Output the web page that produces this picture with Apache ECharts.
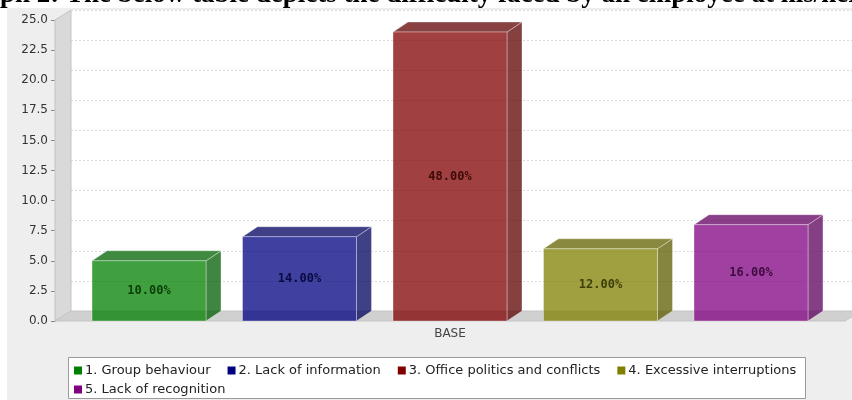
<!DOCTYPE html>
<html>
<head>
<meta charset="utf-8">
<script src="https://cdn.jsdelivr.net/npm/echarts@6/dist/echarts.min.js"></script>
<style>
  html, body { margin: 0; padding: 0; background: #ffffff; }
  #chart { width: 852px; height: 400px; }
</style>
</head>
<body>
<div id="chart"></div>
<script>
// Difficulties faced by employees at the workplace (counts per answer)
const categories = ['BASE'];
const seriesNames = [
  '1. Group behaviour',
  '2. Lack of information',
  '3. Office politics and conflicts',
  '4. Excessive interruptions',
  '5. Lack of recognition'
];
const values = [5, 7, 24, 6, 8];
const yTicks = { min: 0, max: 25, interval: 2.5 };

// Base palette (legend swatches); bar faces are drawn translucent
const palette = [[0, 128, 0], [0, 0, 128], [128, 0, 0], [128, 128, 0], [128, 0, 128]];

const total = values.reduce((a, b) => a + b, 0);
const pctLabel = v => (v / total * 100).toFixed(2) + '%';

// 3D extrusion offsets
const DX = 15, DY = -10;      // bars
const WDX = 16, WDY = -10;    // wall / floor
const STEP = 0.1905;          // centre-to-centre spacing, fraction of category band
const BARW = 0.1443;          // bar width, fraction of category band

const rgba = (c, a, k) => {
  k = k || 1;
  return 'rgba(' + Math.round(c[0] * k) + ',' + Math.round(c[1] * k) + ',' + Math.round(c[2] * k) + ',' + a + ')';
};

function barRenderer(idx) {
  return function (params, api) {
    const xv = api.value(0);
    const base = api.coord([xv, 0]);
    const top = api.coord([xv, api.value(1)]);
    const band = api.size([1, 0])[0];
    const cx = base[0] + (idx - 2) * band * STEP;
    const w = band * BARW;
    const x1 = cx - w / 2, x2 = cx + w / 2;
    const y1 = top[1], y2 = base[1];
    const c = palette[idx];
    const edge = 'rgba(255,255,255,0.35)';
    return {
      type: 'group',
      children: [
        {
          type: 'polygon',
          shape: { points: [[x2, y1], [x2 + DX, y1 + DY], [x2 + DX, y2 + DY], [x2, y2]] },
          style: { fill: rgba(c, 0.75, 0.72), stroke: edge, lineWidth: 1 }
        },
        {
          type: 'polygon',
          shape: { points: [[x1, y1], [x1 + DX, y1 + DY], [x2 + DX, y1 + DY], [x2, y1]] },
          style: { fill: rgba(c, 0.75, 0.76), stroke: edge, lineWidth: 1 }
        },
        {
          type: 'rect',
          shape: { x: x1, y: y1, width: w, height: y2 - y1 },
          style: { fill: rgba(c, 0.75), stroke: edge, lineWidth: 1 }
        },
        {
          type: 'text',
          x: cx, y: (y1 + y2) / 2,
          style: {
            text: pctLabel(api.value(1)),
            fill: rgba(c, 0.85, 0.35),
            font: 'bold 12px "DejaVu Sans Mono", monospace',
            align: 'center', verticalAlign: 'middle'
          }
        }
      ]
    };
  };
}

// Wall on the left and floor along the bottom of the plot
function frameRenderer(params, api) {
  const cs = params.coordSys;
  const x0 = cs.x, y0 = cs.y, w = cs.width, h = cs.height;
  return {
    type: 'group',
    children: [
      {
        type: 'polygon',
        shape: { points: [[x0, y0 + h], [x0, y0], [x0 + WDX, y0 + WDY], [x0 + WDX, y0 + h + WDY]] },
        style: { fill: '#d9d9d9', stroke: '#c4c4c4', lineWidth: 1 }
      },
      {
        type: 'polygon',
        shape: { points: [[x0, y0 + h], [x0 + WDX, y0 + h + WDY], [x0 + w + WDX, y0 + h + WDY], [x0 + w, y0 + h]] },
        style: { fill: '#d0d0d0', stroke: '#c4c4c4', lineWidth: 1 }
      }
    ]
  };
}

const series = [{
  type: 'custom',
  name: 'frame',
  xAxisIndex: 0, yAxisIndex: 0,
  renderItem: frameRenderer,
  data: [[0, 0]],
  silent: true,
  z: 1
}];
values.forEach((v, i) => {
  series.push({
    type: 'custom',
    name: seriesNames[i],
    xAxisIndex: 0, yAxisIndex: 0,
    renderItem: barRenderer(i),
    data: [[0, v]],
    itemStyle: { color: rgba(palette[i], 1) },
    z: 3
  });
});

const legendItem = i => ({ name: seriesNames[i], itemStyle: { color: rgba(palette[i], 1) } });
const legendCommon = {
  orient: 'horizontal',
  icon: 'rect',
  itemWidth: 8, itemHeight: 8,
  itemGap: 17,
  padding: 0,
  selectedMode: false,
  textStyle: { fontFamily: 'DejaVu Sans', fontSize: 13, color: '#222', padding: [0, 0, 0, -2] }
};

const chart = echarts.init(document.getElementById('chart'), null, { renderer: 'canvas' });
chart.setOption({
  animation: false,
  backgroundColor: '#ffffff',
  graphic: [
    { type: 'rect', shape: { x: 7, y: 8, width: 852, height: 400 }, style: { fill: '#eeeeee' }, z: -10, silent: true },
    { type: 'rect', shape: { x: 55 + WDX, y: 10, width: 852, height: 301 }, style: { fill: '#ffffff' }, z: -9, silent: true },
    { type: 'rect', shape: { x: 68.5, y: 357.5, width: 737, height: 41 }, style: { fill: '#ffffff', stroke: '#9a9a9a', lineWidth: 1 }, z: -8, silent: true },
    {
      type: 'text', z: 10, silent: true,
      style: {
        x: 0, y: -5,
        text: 'ph 2: The below table depicts the difficulty faced by an employee at his/her',
        fill: '#000', font: 'bold 27px "Liberation Serif", serif',
        verticalAlign: 'middle'
      }
    }
  ],
  grid: [
    { left: 55, right: 7, top: 20, bottom: 79 },
    { left: 55 + WDX, right: 7 - WDX, top: 20 + WDY, bottom: 79 - WDY }
  ],
  xAxis: [
    {
      type: 'category', gridIndex: 0, data: categories,
      axisLine: { show: false }, axisTick: { show: false },
      axisLabel: { color: '#444', fontFamily: 'DejaVu Sans', fontSize: 12, margin: 7 }
    },
    { type: 'category', gridIndex: 1, data: categories, show: false }
  ],
  yAxis: [
    {
      type: 'value', gridIndex: 0, min: yTicks.min, max: yTicks.max, interval: yTicks.interval,
      axisLine: { show: true, lineStyle: { color: '#a8a8a8' } },
      axisTick: { show: true, length: 4, lineStyle: { color: '#888' } },
      axisLabel: { color: '#333', fontFamily: 'DejaVu Sans', fontSize: 12, margin: 7, formatter: v => v.toFixed(1) },
      splitLine: { show: false }
    },
    {
      type: 'value', gridIndex: 1, min: yTicks.min, max: yTicks.max, interval: yTicks.interval,
      axisLine: { show: false }, axisTick: { show: false }, axisLabel: { show: false },
      splitLine: { show: true, lineStyle: { color: '#dadada', type: [2, 2], width: 1 } }
    }
  ],
  legend: [
    Object.assign({}, legendCommon, { left: 74, top: 364, data: [0, 1, 2, 3].map(legendItem) }),
    Object.assign({}, legendCommon, { left: 74, top: 383, data: [4].map(legendItem) })
  ],
  series: series
});
</script>
</body>
</html>
